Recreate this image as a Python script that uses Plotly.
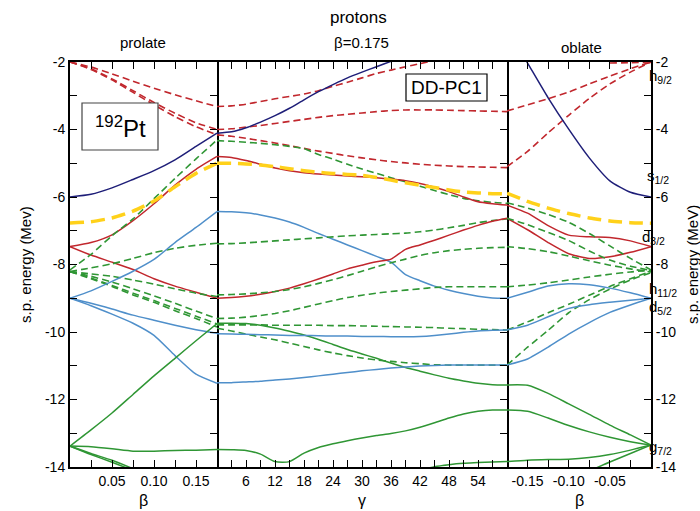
import plotly.graph_objects as go

# ---------------- data ----------------
BETA_P = [0, 0.025, 0.05, 0.075, 0.1, 0.125, 0.15, 0.175]
GAMMA = [0, 3, 6, 9, 12, 15, 18, 21, 24, 27, 30, 33, 36, 39, 42, 45, 48, 51, 54, 57, 60]
BETA_O = [-0.175, -0.15, -0.125, -0.1, -0.075, -0.05, -0.025, 0]

# prolate panel (beta 0 -> 0.175)
P_NAVY = [-6.0, -5.92, -5.73, -5.48, -5.22, -4.9, -4.5, -4.11]
P_RED_DASH_A = [-2.0, -2.15, -2.35, -2.57, -2.78, -2.97, -3.15, -3.32]
P_RED_DASH_B = [-2.0, -2.2, -2.5, -2.85, -3.2, -3.52, -3.8, -4.0]
P_RED_DASH_C = [-2.0, -2.22, -2.53, -2.9, -3.27, -3.62, -3.92, -4.16]
P_RED_UP = [-7.47, -7.35, -7.12, -6.7, -6.2, -5.65, -5.18, -4.8]
P_RED_DOWN = [-7.47, -7.72, -7.93, -8.15, -8.42, -8.64, -8.82, -9.0]
P_FERMI = [-6.77, -6.73, -6.62, -6.42, -6.12, -5.7, -5.3, -5.0]
P_GREEN_DASH_1 = [-8.16, -7.7, -7.15, -6.65, -6.05, -5.45, -4.87, -4.31]
P_GREEN_DASH_2 = [-8.21, -8.1, -7.98, -7.82, -7.65, -7.52, -7.43, -7.37]
P_GREEN_DASH_3 = [-8.21, -8.28, -8.35, -8.46, -8.58, -8.72, -8.85, -8.95]
P_GREEN_DASH_4 = [-8.21, -8.35, -8.52, -8.72, -8.93, -9.15, -9.38, -9.6]
P_GREEN_DASH_5 = [-8.21, -8.4, -8.62, -8.85, -9.07, -9.3, -9.53, -9.76]
P_GREEN_DASH_6 = [-8.21, -8.42, -8.65, -8.9, -9.12, -9.37, -9.6, -9.85]
P_BLUE_1 = [-9.0, -8.78, -8.5, -8.2, -7.85, -7.35, -6.9, -6.43]
P_BLUE_2 = [-9.0, -9.15, -9.32, -9.5, -9.65, -9.8, -9.93, -10.04]
P_BLUE_3 = [-9.0, -9.22, -9.47, -9.74, -10.1, -10.7, -11.25, -11.52]
P_GREEN_1 = [-13.38, -12.9, -12.4, -11.85, -11.3, -10.78, -10.26, -9.75]
P_GREEN_2 = [-13.38, -13.4, -13.46, -13.53, -13.53, -13.51, -13.5, -13.48]
P_GREEN_3 = [-13.38, -13.6, -13.8, -14.05, None, None, None, None]
P_GREEN_4 = [-13.38, -13.63, -13.86, -14.1, None, None, None, None]

# triaxial panel (gamma 0 -> 60 at beta = 0.175)
G_NAVY = [-4.11, -4.07, -3.95, -3.78, -3.59, -3.37, -3.12, -2.88, -2.67, -2.47, -2.3, -2.14, -1.98, -1.82,
          None, None, None, None, None, None, None]
G_RED_DASH_A = [-3.32, -3.3, -3.25, -3.17, -3.09, -3.02, -2.95, -2.85, -2.72, -2.6, -2.47, -2.34, -2.24, -2.14,
                -2.05, -1.95, None, None, None, None, None]
G_RED_DASH_B = [-4.0, -3.98, -3.93, -3.88, -3.82, -3.76, -3.7, -3.64, -3.59, -3.55, -3.51, -3.47, -3.44, -3.42,
                -3.42, -3.42, -3.43, -3.44, -3.45, -3.46, -3.47]
G_RED_DASH_C = [-4.16, -4.2, -4.26, -4.33, -4.4, -4.48, -4.56, -4.64, -4.71, -4.78, -4.84, -4.9, -4.95, -4.99,
                -5.03, -5.06, -5.08, -5.1, -5.11, -5.12, -5.13]
G_GREEN_DASH_1 = [-4.33, -4.35, -4.38, -4.41, -4.45, -4.5, -4.57, -4.74, -4.88, -5.03, -5.17, -5.3, -5.43, -5.55,
                  -5.68, -5.81, -5.93, -6.04, -6.11, -6.16, -6.19]
G_RED_UP = [-4.8, -4.83, -4.92, -5.03, -5.14, -5.22, -5.28, -5.32, -5.35, -5.38, -5.4, -5.43, -5.47, -5.52,
            -5.6, -5.71, -5.84, -6.0, -6.14, -6.2, -6.24]
G_FERMI = [-5.0, -5.0, -5.02, -5.05, -5.1, -5.16, -5.22, -5.27, -5.3, -5.33, -5.36, -5.42, -5.5, -5.58,
           -5.65, -5.72, -5.79, -5.85, -5.88, -5.9, -5.91]
G_BLUE_1 = [-6.43, -6.44, -6.47, -6.53, -6.62, -6.74, -6.9, -7.08, -7.25, -7.42, -7.59, -7.76, -7.93, -8.3,
            -8.48, -8.64, -8.76, -8.86, -8.94, -8.99, -9.0]
G_GREEN_DASH_2 = [-7.39, -7.38, -7.36, -7.33, -7.3, -7.27, -7.24, -7.21, -7.18, -7.15, -7.13, -7.11, -7.09, -7.07,
                  -7.03, -6.98, -6.91, -6.84, -6.76, -6.7, -6.65]
G_RED_DOWN = [-9.0, -8.98, -8.94, -8.88, -8.8, -8.7, -8.57, -8.43, -8.28, -8.13, -8.02, -7.92, -7.84, -7.55,
              -7.42, -7.28, -7.13, -6.98, -6.84, -6.72, -6.63]
G_GREEN_DASH_3 = [-8.9, -8.89, -8.87, -8.84, -8.8, -8.74, -8.66, -8.56, -8.45, -8.33, -8.2, -8.07, -7.95, -7.84,
                  -7.73, -7.65, -7.59, -7.55, -7.52, -7.5, -7.49]
G_GREEN_DASH_4 = [-9.6, -9.59, -9.56, -9.51, -9.45, -9.37, -9.27, -9.17, -9.07, -8.98, -8.91, -8.85, -8.8, -8.76,
                  -8.72, -8.68, -8.66, -8.66, -8.66, -8.66, -8.66]
G_GREEN_DASH_5 = [-9.79, -9.79, -9.79, -9.79, -9.8, -9.8, -9.8, -9.8, -9.81, -9.81, -9.82, -9.83, -9.84, -9.85,
                  -9.86, -9.87, -9.89, -9.9, -9.92, -9.93, -9.94]
G_GREEN_DASH_6 = [-9.89, -9.97, -10.06, -10.15, -10.23, -10.33, -10.43, -10.53, -10.62, -10.7, -10.77, -10.83,
                  -10.87, -10.91, -10.94, -10.97, -10.98, -10.98, -10.98, -10.98, -10.98]
G_GREEN_1 = [-9.74, -9.74, -9.75, -9.8, -9.88, -9.98, -10.09, -10.22, -10.37, -10.52, -10.65, -10.78, -10.92,
             -11.05, -11.16, -11.27, -11.37, -11.45, -11.52, -11.56, -11.57]
G_BLUE_2 = [-10.05, -10.06, -10.07, -10.08, -10.09, -10.1, -10.1, -10.11, -10.12, -10.12, -10.13, -10.13, -10.14,
            -10.14, -10.13, -10.1, -10.06, -10.01, -9.97, -9.95, -9.94]
G_BLUE_3 = [-11.5, -11.5, -11.48, -11.46, -11.42, -11.39, -11.35, -11.3, -11.25, -11.2, -11.15, -11.11, -11.07,
            -11.04, -11.01, -10.99, -10.98, -10.98, -10.98, -10.98, -10.98]
G_GREEN_2 = [-13.48, -13.49, -13.51, -13.62, -13.84, -13.84, -13.59, -13.42, -13.31, -13.22, -13.14, -13.07,
             -13.01, -12.93, -12.82, -12.69, -12.55, -12.43, -12.35, -12.31, -12.31]
G_GREEN_3 = [None, None, None, None, None, None, None, None, None, None, None, None, None, None,
             -14.1, -13.99, -13.93, -13.89, -13.87, -13.85, -13.84]

# oblate panel (beta -0.175 -> 0)
O_NAVY = [-1.0, -2.03, -3.06, -3.99, -4.84, -5.52, -5.86, -6.0]
O_RED_DASH_A = [-3.45, -3.27, -3.09, -2.89, -2.65, -2.42, -2.2, -2.0]
O_RED_DASH_B = [-5.1, -4.65, -4.1, -3.58, -3.08, -2.65, -2.3, -2.0]
O_RED_DASH_C = [None, None, None, None, None, -2.03, -2.02, -2.0]
O_RED_1 = [-6.24, -6.48, -6.85, -7.13, -7.18, -7.2, -7.3, -7.47]
O_RED_2 = [-6.63, -6.97, -7.35, -7.68, -7.82, -7.77, -7.64, -7.47]
O_FERMI = [-5.89, -6.13, -6.33, -6.49, -6.62, -6.71, -6.76, -6.78]
O_GREEN_DASH_1 = [-6.17, -6.33, -6.52, -6.75, -7.08, -7.45, -7.82, -8.16]
O_GREEN_DASH_2 = [-6.63, -6.82, -7.05, -7.29, -7.6, -7.87, -8.05, -8.18]
O_GREEN_DASH_3 = [-7.47, -7.53, -7.62, -7.75, -7.89, -8.02, -8.13, -8.22]
O_GREEN_DASH_4 = [-8.66, -8.61, -8.54, -8.46, -8.37, -8.29, -8.22, -8.17]
O_GREEN_DASH_5 = [-9.94, -9.7, -9.43, -9.18, -8.91, -8.65, -8.42, -8.2]
O_GREEN_DASH_6 = [-10.98, -10.45, -9.95, -9.43, -9.04, -8.73, -8.46, -8.24]
O_BLUE_1 = [-9.0, -8.82, -8.64, -8.57, -8.6, -8.7, -8.84, -9.0]
O_BLUE_2 = [-9.94, -9.8, -9.55, -9.3, -9.19, -9.12, -9.06, -9.0]
O_BLUE_3 = [-10.98, -10.8, -10.45, -10.06, -9.72, -9.42, -9.2, -9.0]
O_GREEN_1 = [-11.57, -11.58, -11.82, -12.13, -12.44, -12.76, -13.05, -13.35]
O_GREEN_2 = [-12.31, -12.35, -12.55, -12.77, -12.96, -13.12, -13.25, -13.35]
O_GREEN_3 = [-13.84, -13.8, -13.78, -13.77, -13.72, -13.63, -13.5, -13.35]
O_GREEN_4 = [None, None, None, None, -14.12, -13.85, -13.6, -13.35]

Y_TICKS = [-14, -13, -12, -11, -10, -9, -8, -7, -6, -5, -4, -3, -2]
Y_TEXT = ["-14", "", "-12", "", "-10", "", "-8", "", "-6", "", "-4", "", "-2"]
XP_TICKS = [0.025, 0.05, 0.075, 0.1, 0.125, 0.15]
XP_TEXT = ["", "0.05", "", "0.10", "", "0.15"]
G_TICKS = [3, 6, 9, 12, 15, 18, 21, 24, 27, 30, 33, 36, 39, 42, 45, 48, 51, 54, 57]
G_TEXT = ["", "6", "", "12", "", "18", "", "24", "", "30", "", "36", "", "42", "", "48", "", "54", ""]
XO_TICKS = [-0.15, -0.125, -0.1, -0.075, -0.05, -0.025]
XO_TEXT = ["-0.15", "", "-0.10", "", "-0.05", ""]

LEVELS = ["h<sub>9/2</sub>", "s<sub>1/2</sub>", "d<sub>3/2</sub>", "h<sub>11/2</sub>", "d<sub>5/2</sub>", "g<sub>7/2</sub>"]

# ---------------- styling ----------------
NAVY = "#1e1e78"
RED = "#c1272d"
GREEN = "#2f9634"
BLUE = "#4f8fca"
YELLOW = "#ffd11a"
FONT = "Liberation Sans, Arial, sans-serif"

W, H = 700, 511
L, R, T, B = 70, 49, 62, 44
PW, PH = W - L - R, H - T - B


def px(xp):
    return (xp - L) / PW


def py(yp):
    return (H - B - yp) / PH


fig = go.Figure()


def add(xs, ys, color, ax, dash="solid", width=1.5):
    fig.add_trace(go.Scatter(
        x=xs, y=ys, mode="lines", xaxis="x" + ax, yaxis="y" + ax,
        line=dict(color=color, width=width, dash=dash, shape="spline", smoothing=0.6),
        showlegend=False, hoverinfo="skip"))


RD = "7px,4px"
GD = "7px,4px"
YD = "14px,7px"

panels = [
    ("", BETA_P, [
        (P_RED_DASH_A, RED, RD), (P_RED_DASH_B, RED, RD), (P_RED_DASH_C, RED, RD),
        (P_NAVY, NAVY, "solid"), (P_RED_UP, RED, "solid"), (P_RED_DOWN, RED, "solid"),
        (P_GREEN_DASH_1, GREEN, GD), (P_GREEN_DASH_2, GREEN, GD), (P_GREEN_DASH_3, GREEN, GD),
        (P_GREEN_DASH_4, GREEN, GD), (P_GREEN_DASH_5, GREEN, GD), (P_GREEN_DASH_6, GREEN, GD),
        (P_BLUE_1, BLUE, "solid"), (P_BLUE_2, BLUE, "solid"), (P_BLUE_3, BLUE, "solid"),
        (P_GREEN_1, GREEN, "solid"), (P_GREEN_2, GREEN, "solid"), (P_GREEN_3, GREEN, "solid"),
        (P_GREEN_4, GREEN, "solid"), (P_FERMI, YELLOW, YD)]),
    ("2", GAMMA, [
        (G_RED_DASH_A, RED, RD), (G_RED_DASH_B, RED, RD), (G_RED_DASH_C, RED, RD),
        (G_NAVY, NAVY, "solid"), (G_GREEN_DASH_1, GREEN, GD), (G_RED_UP, RED, "solid"),
        (G_BLUE_1, BLUE, "solid"), (G_GREEN_DASH_2, GREEN, GD), (G_RED_DOWN, RED, "solid"),
        (G_GREEN_DASH_3, GREEN, GD), (G_GREEN_DASH_4, GREEN, GD), (G_GREEN_DASH_5, GREEN, GD),
        (G_GREEN_DASH_6, GREEN, GD), (G_GREEN_1, GREEN, "solid"), (G_BLUE_2, BLUE, "solid"),
        (G_BLUE_3, BLUE, "solid"), (G_GREEN_2, GREEN, "solid"), (G_GREEN_3, GREEN, "solid"),
        (G_FERMI, YELLOW, YD)]),
    ("3", BETA_O, [
        (O_RED_DASH_A, RED, RD), (O_RED_DASH_B, RED, RD), (O_RED_DASH_C, RED, RD),
        (O_NAVY, NAVY, "solid"), (O_RED_1, RED, "solid"), (O_RED_2, RED, "solid"),
        (O_GREEN_DASH_1, GREEN, GD), (O_GREEN_DASH_2, GREEN, GD), (O_GREEN_DASH_3, GREEN, GD),
        (O_GREEN_DASH_4, GREEN, GD), (O_GREEN_DASH_5, GREEN, GD), (O_GREEN_DASH_6, GREEN, GD),
        (O_BLUE_1, BLUE, "solid"), (O_BLUE_2, BLUE, "solid"), (O_BLUE_3, BLUE, "solid"),
        (O_GREEN_1, GREEN, "solid"), (O_GREEN_2, GREEN, "solid"), (O_GREEN_3, GREEN, "solid"),
        (O_GREEN_4, GREEN, "solid"), (O_FERMI, YELLOW, YD)]),
]

for ax, xs, curves in panels:
    for ys, color, dash in curves:
        w = 3.5 if color == YELLOW else (1.6 if dash != "solid" else 1.5)
        add(xs, ys, color, ax, dash, w)

tickfont = dict(family=FONT, size=14, color="black")
d1 = px(217)
d2 = px(507)

common_x = dict(showline=True, linecolor="black", linewidth=2, mirror="ticks", ticks="inside",
                ticklen=7, tickcolor="black", tickwidth=1, showgrid=False, zeroline=False,
                tickfont=tickfont, tickmode="array")
common_y = dict(showline=True, linecolor="black", linewidth=2, ticks="inside", ticklen=7,
                tickcolor="black", tickwidth=1, showgrid=False, zeroline=False, range=[-14, -2],
                tickmode="array", tickvals=Y_TICKS, ticktext=Y_TEXT, tickfont=tickfont)

fig.update_layout(
    width=W, height=H, margin=dict(l=L, r=R, t=T, b=B, autoexpand=False),
    paper_bgcolor="white", plot_bgcolor="white",
    font=dict(family=FONT, color="black"),
    xaxis=dict(common_x, domain=[0, d1], range=[0, 0.175], anchor="y", tickvals=XP_TICKS, ticktext=XP_TEXT),
    xaxis2=dict(common_x, domain=[d1, d2], range=[0, 60], anchor="y2", tickvals=G_TICKS, ticktext=G_TEXT),
    xaxis3=dict(common_x, domain=[d2, 1], range=[-0.175, 0], anchor="y3", tickvals=XO_TICKS, ticktext=XO_TEXT),
    yaxis=dict(common_y, anchor="x", mirror="ticks", side="left"),
    yaxis2=dict(common_y, anchor="x2", mirror=False, side="right", showticklabels=False),
    yaxis3=dict(common_y, anchor="x3", mirror=False, side="right"),
)

ann = []


def text(x, y, s, size=14, xanchor="center", yanchor="middle", angle=0):
    ann.append(dict(x=px(x), y=py(y), xref="paper", yref="paper", text=s, showarrow=False,
                    xanchor=xanchor, yanchor=yanchor, textangle=angle, borderpad=0,
                    font=dict(family=FONT, size=size, color="black")))


text(358, 18, "protons", 17)
text(361, 42, "β=0.175", 15)
text(143, 43, "prolate", 15)
text(581, 47, "oblate", 15)
text(143, 500, "β", 16)
text(362, 500, "γ", 16)
text(579, 500, "β", 16)
text(25, 265, "s.p. energy (Mev)", 15, angle=-90)
text(692, 265, "s.p. energy (MeV)", 15, angle=-90)
text(120, 127, "<sup>192</sup>Pt", 24)
text(446, 87, "DD-PC1", 19)

level_pos = [(648, 66), (646, 166), (641, 227), (648, 279), (648, 297), (648, 437)]
for s, (x, y) in zip(LEVELS, level_pos):
    text(x, y, s, 15, xanchor="left", yanchor="top")

fig.update_layout(annotations=ann)

fig.add_shape(type="rect", xref="paper", yref="paper", x0=px(82), x1=px(158), y0=py(150), y1=py(103),
              line=dict(color="#444444", width=1.2), fillcolor="white", layer="above")
fig.add_shape(type="rect", xref="paper", yref="paper", x0=px(406), x1=px(487), y0=py(101), y1=py(74),
              line=dict(color="black", width=1.2), fillcolor="white", layer="above")

fig.write_html("out.html", config={"displayModeBar": False},
               post_script="document.body.style.margin='0';")
